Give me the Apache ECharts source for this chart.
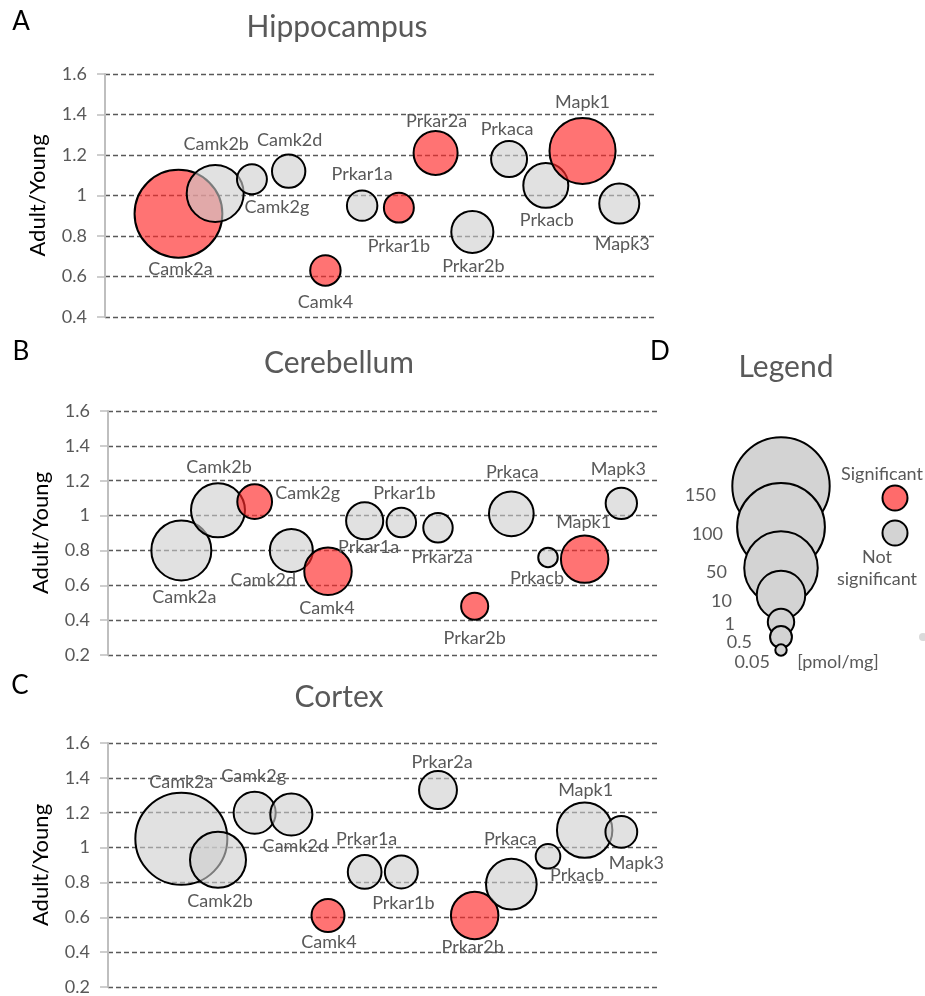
<!DOCTYPE html>
<html><head><meta charset="utf-8">
<script src="https://cdn.jsdelivr.net/npm/echarts@6.0.0/dist/echarts.min.js"></script>
<style>html,body{margin:0;padding:0;background:#fff}#c{width:925px;height:996px}</style>
</head><body><div id="c"></div><script>
// ---- data ----
const genes = ['Camk2a','Camk2b','Camk2g','Camk2d','Camk4','Prkar1a','Prkar1b','Prkar2a','Prkar2b','Prkaca','Prkacb','Mapk1','Mapk3'];
const xPos = [1,2,3,4,5,6,7,8,9,10,11,12,13];
// Adult/Young ratio
const hipRatio = [0.91,1.01,1.08,1.12,0.63,0.95,0.94,1.21,0.82,1.18,1.05,1.22,0.96];
const cerRatio = [0.80,1.03,1.08,0.80,0.68,0.97,0.96,0.93,0.48,1.01,0.76,0.75,1.07];
const corRatio = [1.05,0.93,1.20,1.19,0.61,0.86,0.86,1.33,0.61,0.79,0.95,1.10,1.09];
// amount [pmol/mg] -> bubble size
const hipAmount = [100,18.6,1.6,2.4,1.7,1.7,1.6,6.9,5.8,3.2,7.5,33,4.8];
const cerAmount = [22.7,15.1,2.8,6.3,9.2,3.6,1.5,1.5,1.1,7.3,0.33,9.2,1.9];
const corAmount = [120,17.4,5.8,5.8,2.3,2.5,2.3,3.9,9.2,11.8,0.77,16.7,2.0];
// significance (1 = significant)
const hipSig = [1,0,0,0,1,0,1,1,0,0,0,1,0];
const cerSig = [0,0,1,0,1,0,0,0,1,0,0,1,0];
const corSig = [0,0,0,0,1,0,0,0,1,0,0,0,0];
const yTicks = ['0.2','0.4','0.6','0.8','1','1.2','1.4','1.6'];
const legendAmounts = [150,100,50,10,1,0.5,0.05];
const legendLabels = ['150','100','50','10','1','0.5','0.05'];

// ---- label placement (styling) ----
const hipLab = [[2,55],[1,-49],[25,28],[1,-31],[0,32],[0,-31],[0,39],[1,-32],[1,34],[-2,-30],[1,35],[0,-49],[3,41]];
const cerLab = [[3,47],[1,-43],[53,-8],[-28,30],[-1,37],[4,26],[3,-29],[4,29],[0,32],[1,-42],[-11,21],[-1,-37],[-3,-34]];
const corLab = [[0,-57],[2,41],[-1,-37],[4,32],[1,27],[2,-33],[2,31],[4,-28],[-2,32],[-1,-45],[29,19],[1,-40],[15,31]];

const FONT = 'Lato';
const TXT = '#595959';
const RED = 'rgba(255,40,40,0.65)';
const GRAY = 'rgba(205,205,205,0.6)';
function radius(v){ return 14.2*Math.pow(v,0.25); }
function symSize(v){ return 2*radius(v)-2; }

const grids = [
  {left:105, right:269, top:74, height:243},
  {left:108, right:267, top:411, height:244},
  {left:108, right:267, top:743, height:244}
];
const mins = [0.4,0.2,0.2];
const panels = [
  [hipRatio,hipAmount,hipSig,hipLab],
  [cerRatio,cerAmount,cerSig,cerLab],
  [corRatio,corAmount,corSig,corLab]
];

const xAxes = grids.map((g,i)=>({gridIndex:i,type:'value',min:-1,max:14,show:false}));
const yAxes = grids.map((g,i)=>({
  gridIndex:i,type:'value',min:mins[i],max:1.6,interval:0.2,
  name:'Adult/Young',nameLocation:'middle',nameGap:56,
  nameTextStyle:{color:'#000',fontFamily:FONT,fontSize:22},
  axisLine:{show:true,onZero:false,lineStyle:{color:'#BFBFBF',width:2}},
  axisTick:{show:true,length:8,lineStyle:{color:'#BFBFBF',width:1.5}},
  axisLabel:{color:TXT,fontFamily:FONT,fontSize:18,margin:18,
    formatter:v=>{const s=yTicks.find(t=>Math.abs(parseFloat(t)-v)<1e-6);return s||'';}},
  splitLine:{show:true,lineStyle:{color:'#595959',width:1.3,type:[5,3]}}
}));

const series = panels.map((p,i)=>({
  type:'scatter',xAxisIndex:i,yAxisIndex:i,
  symbolSize:d=>symSize(d[2]),
  itemStyle:{borderColor:'#000',borderWidth:2,opacity:1},
  emphasis:{disabled:true},
  data:genes.map((g,k)=>({
    name:g,value:[xPos[k],p[0][k],p[1][k]],
    itemStyle:{color:p[2][k]?RED:GRAY},
    label:{show:true,position:'inside',offset:p[3][k],formatter:g,
      color:TXT,fontFamily:FONT,fontSize:18}
  }))
}));

const graphic = [];
function txt(x,y,t,size,color,align){
  graphic.push({type:'text',x:x,y:y,style:{text:t,fill:color||TXT,font:size+'px '+FONT,
    textAlign:align||'center',textVerticalAlign:'middle'}});
}
txt(21,22,'A',26,'#000'); txt(21,352,'B',26,'#000'); txt(20,686,'C',26,'#000'); txt(660,352,'D',26,'#000');
txt(337,27,'Hippocampus',30); txt(339,363,'Cerebellum',30); txt(339,697,'Cortex',30); txt(786,367,'Legend',30);
// legend bubbles
const legCy = [486,527,568,595,622,637,650];
legendAmounts.forEach((v,k)=>{
  graphic.push({type:'circle',shape:{cx:781,cy:legCy[k],r:radius(v)-1},
    style:{fill:'#D3D3D3',stroke:'#000',lineWidth:2},z:10+k});
});
const legLx = [716,723,727,732,735,752,770];
const legLy = [495,534,572,601,624,642,662];
legendLabels.forEach((t,k)=>txt(legLx[k],legLy[k],t,18,TXT,'right'));
txt(838,662,'[pmol/mg]',18);
txt(882,474,'Significant',18);
graphic.push({type:'circle',shape:{cx:895,cy:498,r:12.5},style:{fill:'#FF6B6B',stroke:'#000',lineWidth:2}});
graphic.push({type:'circle',shape:{cx:895,cy:533,r:12.5},style:{fill:'#D3D3D3',stroke:'#000',lineWidth:2}});
txt(877,557,'Not',18); txt(877,579,'significant',18);
graphic.push({type:'circle',shape:{cx:923,cy:637,r:4},style:{fill:'#DADADA'}});

const chart = echarts.init(document.getElementById('c'),null,{renderer:'canvas'});
chart.setOption({
  animation:false,
  grid:grids,
  xAxis:xAxes,yAxis:yAxes,
  series:series,
  graphic:graphic
});
</script></body></html>
